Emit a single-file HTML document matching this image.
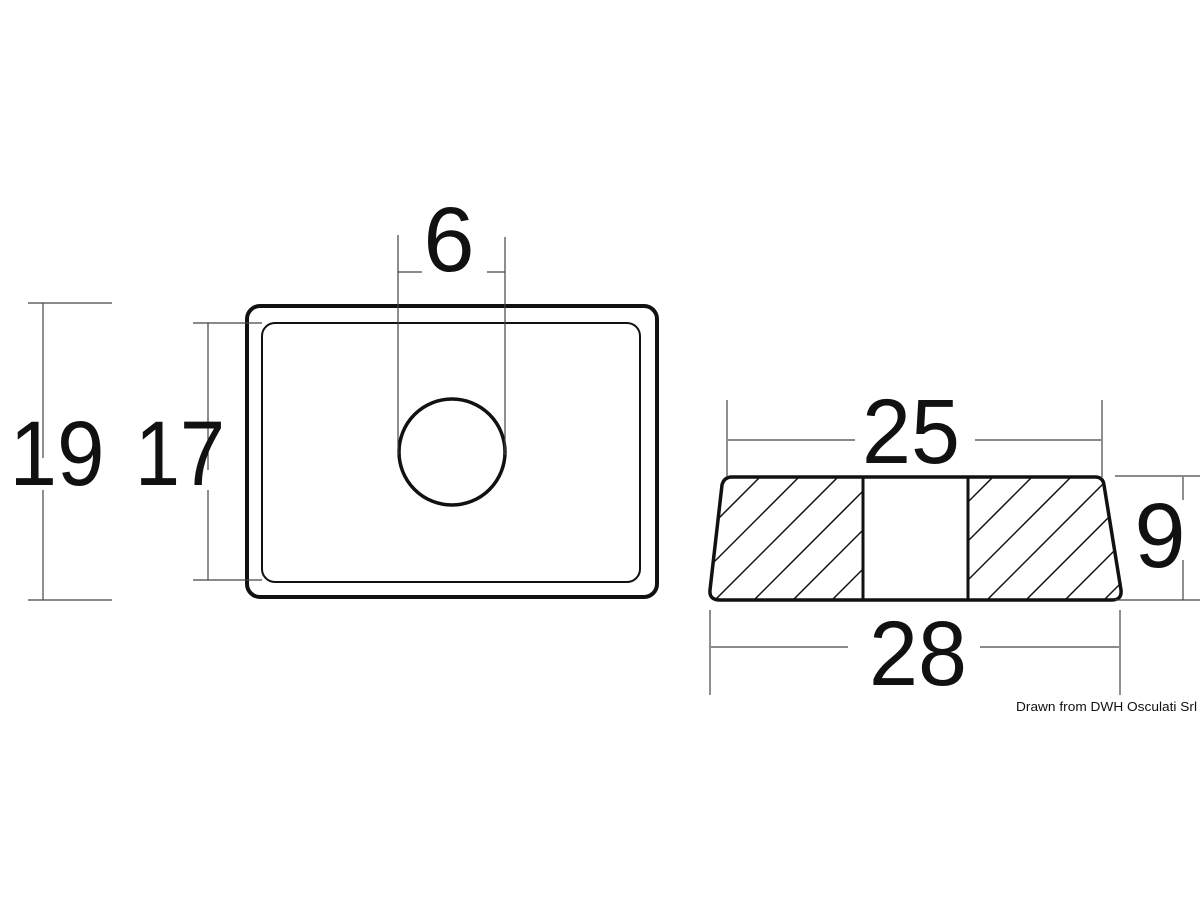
<!DOCTYPE html>
<html><head><style>html,body{margin:0;padding:0;background:#fff;}svg{display:block}</style></head>
<body>
<svg width="1200" height="900" viewBox="0 0 1200 900" xmlns="http://www.w3.org/2000/svg">
<defs>
<clipPath id="cl"><path d="M724,477 L863,477 L863,600 L710,600 Z"/></clipPath>
<clipPath id="cr"><path d="M968,477 L1103,477 L1122,600 L968,600 Z"/></clipPath>
</defs>
<g fill="none" stroke="#111">
<!-- left view -->
<rect x="247" y="306" width="410" height="291" rx="13" stroke-width="4"/>
<rect x="262" y="323" width="378" height="259" rx="13" stroke-width="2"/>
<circle cx="452" cy="452" r="53" stroke-width="3.5"/>
<g stroke-width="1.2" stroke="#444">
<line x1="398" y1="235" x2="398" y2="455"/>
<line x1="505" y1="237" x2="505" y2="455"/>
<line x1="398" y1="272" x2="422" y2="272"/>
<line x1="487" y1="272" x2="505" y2="272"/>
<line x1="43" y1="303" x2="43" y2="458"/>
<line x1="43" y1="490" x2="43" y2="600"/>
<line x1="28" y1="303" x2="112" y2="303"/>
<line x1="28" y1="600" x2="112" y2="600"/>
<line x1="208" y1="323" x2="208" y2="470"/>
<line x1="208" y1="490" x2="208" y2="580"/>
<line x1="193" y1="323" x2="262" y2="323"/>
<line x1="193" y1="580" x2="262" y2="580"/>
</g>
<!-- right view -->
<path d="M732,477 L1095,477 Q1103,477 1104,485 L1121,590 Q1122,600 1112,600 L720,600 Q709,600 710,590 L722,485 Q724,477 732,477 Z" stroke-width="3.5" stroke-linejoin="round"/>
<line x1="863" y1="477" x2="863" y2="600" stroke-width="3"/>
<line x1="968" y1="477" x2="968" y2="600" stroke-width="3"/>
<g stroke-width="1.5" clip-path="url(#cl)">
<line x1="637" y1="600" x2="760" y2="477"/>
<line x1="676" y1="600" x2="799" y2="477"/>
<line x1="715" y1="600" x2="838" y2="477"/>
<line x1="754" y1="600" x2="877" y2="477"/>
<line x1="793" y1="600" x2="916" y2="477"/>
<line x1="832" y1="600" x2="955" y2="477"/>
</g>
<g stroke-width="1.5" clip-path="url(#cr)">
<line x1="870" y1="600" x2="993" y2="477"/>
<line x1="909" y1="600" x2="1032" y2="477"/>
<line x1="948" y1="600" x2="1071" y2="477"/>
<line x1="987" y1="600" x2="1110" y2="477"/>
<line x1="1026" y1="600" x2="1149" y2="477"/>
<line x1="1065" y1="600" x2="1188" y2="477"/>
<line x1="1104" y1="600" x2="1227" y2="477"/>
</g>
<g stroke-width="1.2" stroke="#444">
<line x1="727" y1="400" x2="727" y2="477"/>
<line x1="1102" y1="400" x2="1102" y2="477"/>
<line x1="728" y1="440" x2="855" y2="440"/>
<line x1="975" y1="440" x2="1101" y2="440"/>
<line x1="710" y1="610" x2="710" y2="695"/>
<line x1="1120" y1="610" x2="1120" y2="695"/>
<line x1="711" y1="647" x2="848" y2="647"/>
<line x1="980" y1="647" x2="1119" y2="647"/>
<line x1="1115" y1="476" x2="1200" y2="476"/>
<line x1="1115" y1="600" x2="1200" y2="600"/>
<line x1="1183" y1="477" x2="1183" y2="500"/>
<line x1="1183" y1="560" x2="1183" y2="600"/>
</g>
</g>
<g font-family="Liberation Sans, sans-serif" fill="#111" font-size="92">
<text x="449" y="271" text-anchor="middle">6</text>
<text x="57" y="485" text-anchor="middle" textLength="95" lengthAdjust="spacingAndGlyphs">19</text>
<text x="180" y="485" text-anchor="middle" textLength="90" lengthAdjust="spacingAndGlyphs">17</text>
<text x="911" y="463" text-anchor="middle" textLength="98" lengthAdjust="spacingAndGlyphs">25</text>
<text x="918" y="685" text-anchor="middle" textLength="98" lengthAdjust="spacingAndGlyphs">28</text>
<text x="1160" y="567" text-anchor="middle">9</text>
<text x="1016" y="711" font-size="13" textLength="181" lengthAdjust="spacingAndGlyphs">Drawn from DWH Osculati Srl</text>
</g>
</svg>
</body></html>
